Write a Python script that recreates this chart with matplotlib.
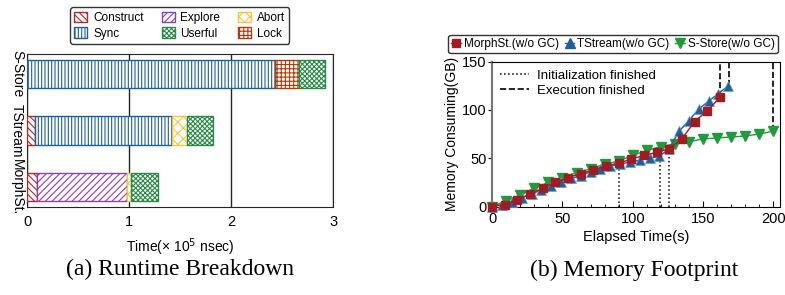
import numpy as np
import matplotlib.pyplot as plt
from matplotlib.patches import Patch
from matplotlib.lines import Line2D

plt.rcParams['font.family'] = ['Liberation Sans', 'DejaVu Sans']
plt.rcParams['hatch.linewidth'] = 0.8

# ---- (a) runtime breakdown data (x 1e5 nsec) ----
systems = ['MorphSt.', 'TStream', 'S-Store']
components = ['Construct', 'Sync', 'Explore', 'Userful', 'Abort', 'Lock']
construct = [0.098, 0.076, 0.0]
explore = [0.882, 0.0, 0.0]
sync = [0.0, 1.344, 2.43]
abort = [0.04, 0.146, 0.0]
lock = [0.0, 0.0, 0.24]
userful = [0.26, 0.254, 0.25]

# ---- (b) memory footprint data ----
morph_t = [0, 9, 18, 27, 36, 45, 54, 63, 72, 81, 90, 99, 108, 117, 126, 135, 144, 153, 162]
morph_mem = [0, 2, 7, 13, 19, 25, 30, 34, 38, 42, 45, 49, 53, 56, 60, 70, 88, 99, 113]
tstream_t = [0, 7, 14, 21, 28, 35, 42, 49, 56, 63, 70, 77, 84, 91, 98, 105, 112, 119,
             126, 133, 140, 147, 154, 161, 168]
tstream_mem = [0, 2, 5, 9, 13, 17, 21, 25, 29, 32, 36, 39, 42, 44, 46, 48, 50, 52,
               60, 78, 89, 101, 109, 117, 125]
sstore_t = [0, 10, 20, 30, 40, 50, 60, 70, 80, 90, 100, 110, 120, 130, 140, 150, 160,
            170, 180, 190, 200]
sstore_mem = [0, 6, 12, 19, 25, 30, 35, 39, 44, 47, 53, 58, 62, 65, 67, 70, 71, 72,
              73, 75, 78]
init_done = [(90, 47), (119.5, 52), (126, 60)]
exec_done = [(162, 113), (168.5, 125), (200, 78)]

fig = plt.figure(figsize=(7.85, 2.95), dpi=100)

# ---------------- left panel ----------------
ax1 = fig.add_axes([0.0344, 0.298, 0.390, 0.519])
styles = {
    'Construct': ('#b2282e', '\\\\\\\\\\'),
    'Explore': ('#8e3fb0', '/////'),
    'Sync': ('#1f5f9c', '|||||'),
    'Userful': ('#2a8a48', 'xxxxxxx'),
    'Abort': ('#f5c542', 'xxx'),
    'Lock': ('#b03a0a', '++++'),
}
order = [('Construct', construct), ('Explore', explore), ('Sync', sync),
         ('Abort', abort), ('Lock', lock), ('Userful', userful)]
y = np.arange(len(systems))
left = np.zeros(len(systems))
for name, vals in order:
    vals = np.array(vals)
    col, hatch = styles[name]
    mask = vals > 0
    ax1.barh(y[mask], vals[mask], left=left[mask], height=0.5, facecolor='white',
             edgecolor=col, hatch=hatch, linewidth=1.0, zorder=3)
    left += vals
ax1.set_xlim(0, 3)
ax1.set_ylim(-0.35, 2.35)
ax1.set_xticks([0, 1, 2, 3])
ax1.set_yticks(y)
ax1.set_yticklabels(systems, rotation=-90, va='center', fontsize=10)
ax1.tick_params(axis='both', length=0, labelsize=10.5)
ax1.tick_params(axis='x', pad=6)
ax1.tick_params(axis='y', pad=2, labelsize=10)
ax1.grid(axis='x', color='0.15', linewidth=1.0, zorder=0)
ax1.set_xlabel('Time(× 10$^5$ nsec)', fontsize=10, labelpad=5)
for s in ax1.spines.values():
    s.set_color('0.15')

handles = [Patch(facecolor='white', edgecolor=styles[n][0], hatch=styles[n][1], label=n)
           for n in components]
fig.legend(handles=handles, ncol=3, loc='upper center', bbox_to_anchor=(0.229, 0.995),
           fontsize=8.5, handlelength=1.1, handleheight=1.0, columnspacing=1.5,
           handletextpad=0.5, borderpad=0.35, labelspacing=0.3, edgecolor='0.2',
           framealpha=1)

# ---------------- right panel ----------------
ax2 = fig.add_axes([0.627, 0.300, 0.367, 0.491])
ax2.plot(sstore_t, sstore_mem, color='#1f9a3c', marker='v', markersize=7, lw=1,
         label='S-Store(w/o GC)', clip_on=False, zorder=3)
ax2.plot(tstream_t, tstream_mem, color='#1f5f9c', marker='^', markersize=7, lw=1,
         markeredgecolor='#6fa0cc', markeredgewidth=0.5,
         label='TStream(w/o GC)', clip_on=False, zorder=4)
ax2.plot(morph_t, morph_mem, color='#a01b22', marker='s', markersize=6, lw=1,
         label='MorphSt.(w/o GC)', clip_on=False, zorder=5)
for t, m in init_done:
    ax2.plot([t, t], [0, m], color='black', linestyle=':', lw=1.1, zorder=2)
for t, m in exec_done:
    ax2.plot([t, t], [m, 150], color='black', linestyle='--', lw=1.2, zorder=2)
ax2.set_xlim(0, 205)
ax2.set_ylim(0, 150)
ax2.set_xticks([0, 50, 100, 150, 200])
ax2.set_xticks(np.arange(0, 206, 10), minor=True)
ax2.set_yticks([0, 50, 100, 150])
ax2.tick_params(axis='x', direction='in', length=4, labelsize=10.5, pad=4)
ax2.tick_params(axis='x', which='minor', direction='in', length=2)
ax2.tick_params(axis='y', length=3, labelsize=10.5, pad=1)
ax2.spines['left'].set_color('0.45')
ax2.spines['left'].set_linewidth(1.5)
ax2.set_xlabel('Elapsed Time(s)', fontsize=10.5, labelpad=3)
ax2.set_ylabel('Memory Consuming(GB)', fontsize=10, labelpad=2)

inner = [Line2D([], [], color='black', linestyle=':', lw=1.1, label='Initialization finished'),
         Line2D([], [], color='black', linestyle='--', lw=1.2, label='Execution finished')]
ax2.legend(handles=inner, loc='upper left', frameon=False, fontsize=9.5,
           handlelength=2.2, borderaxespad=0.2, labelspacing=0.2, handletextpad=0.6)

top_handles = [Line2D([], [], color='#a01b22', marker='s', markersize=6, lw=1),
               Line2D([], [], color='#1f5f9c', marker='^', markersize=7, lw=1),
               Line2D([], [], color='#1f9a3c', marker='v', markersize=7, lw=1)]
fig.legend(handles=top_handles,
           labels=['MorphSt.(w/o GC)', 'TStream(w/o GC)', 'S-Store(w/o GC)'],
           ncol=3, loc='upper center', bbox_to_anchor=(0.781, 0.885), fontsize=8.5,
           handlelength=0.8, handletextpad=0.25, columnspacing=0.5, borderpad=0.25,
           borderaxespad=0.1, edgecolor='0.2', framealpha=1)

fig.text(0.229, 0.085, '(a) Runtime Breakdown', ha='center', va='center',
         fontsize=17, family=['Liberation Serif', 'DejaVu Serif'])
fig.text(0.808, 0.085, '(b) Memory Footprint', ha='center', va='center',
         fontsize=17, family=['Liberation Serif', 'DejaVu Serif'])

fig.savefig('out.png', dpi=100)
